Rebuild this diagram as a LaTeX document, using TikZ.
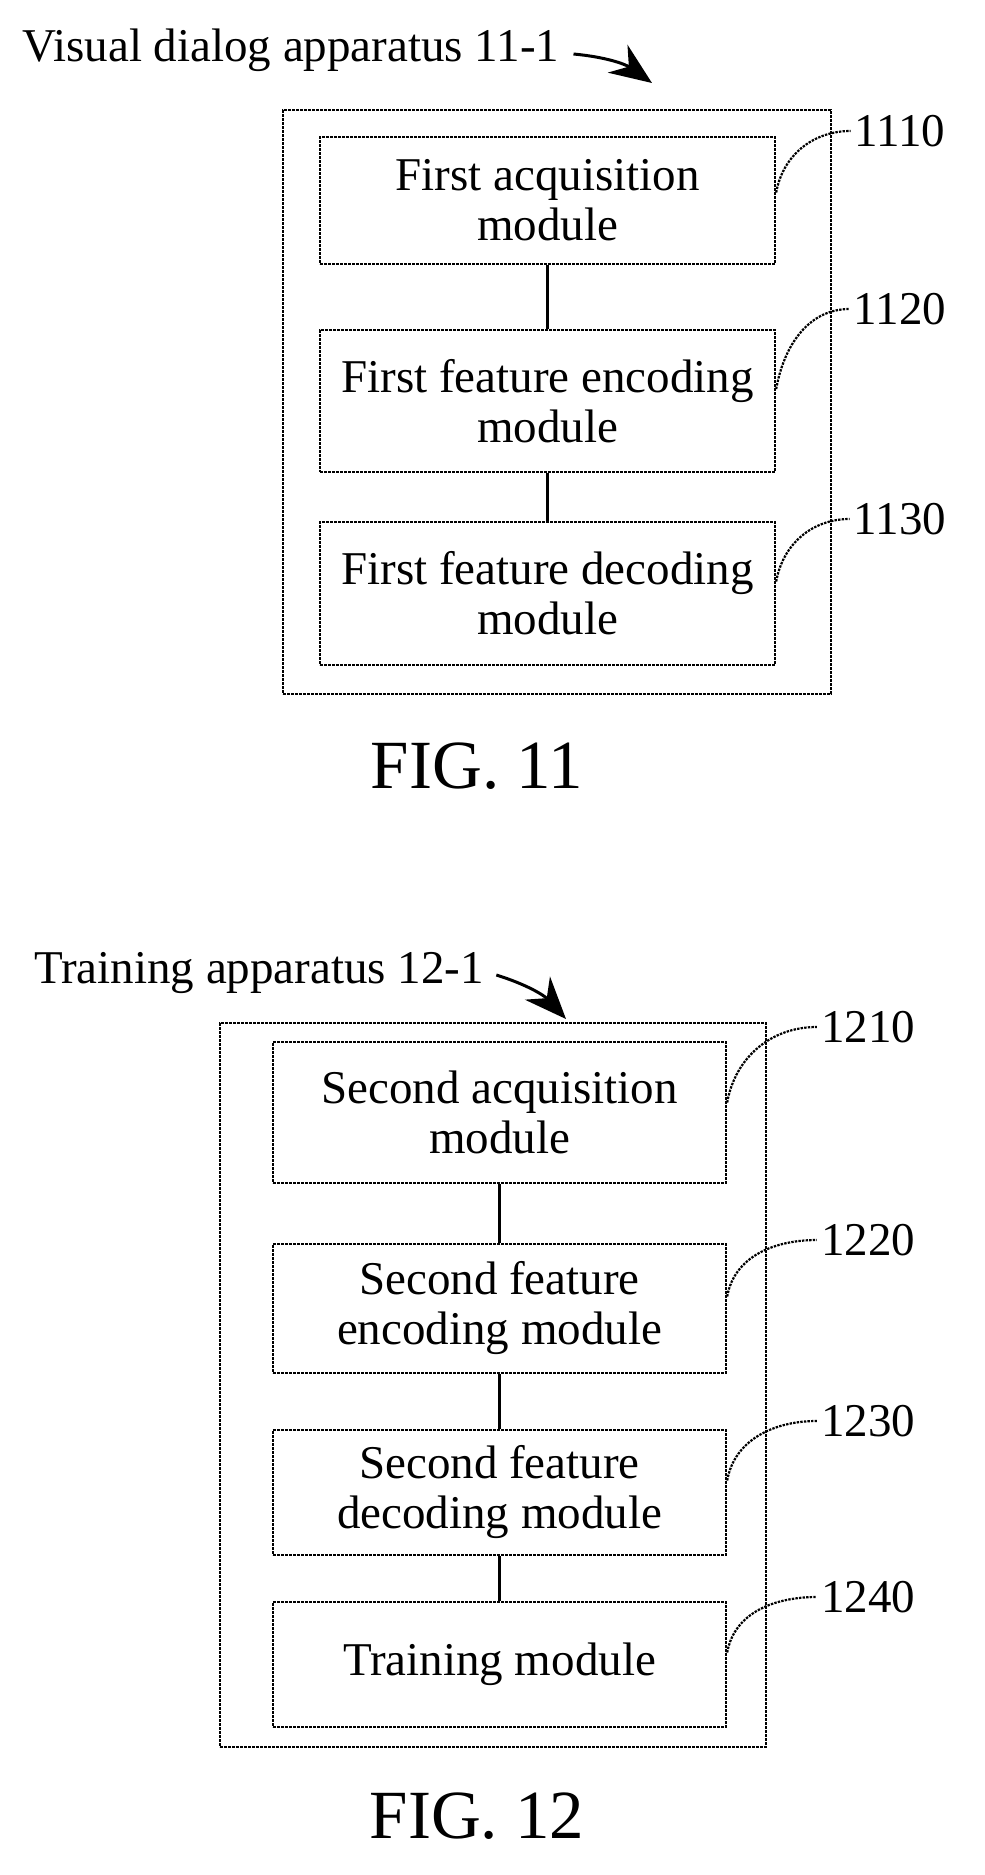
\documentclass[tikz,border=0pt]{standalone}
\usepackage{fontspec}
\setmainfont{Liberation Serif}
\usetikzlibrary{arrows.meta}
\tikzstyle{none}=[inner sep=0pt]
\tikzstyle{caption}=[inner sep=0pt,font=\fontsize{47}{55}\selectfont]
\tikzstyle{fig}=[inner sep=0pt,font=\fontsize{69}{72}\selectfont]
\tikzstyle{frame}=[draw=black,line width=2.4pt,dash pattern=on 2.6pt off 1.4pt]
\tikzstyle{module}=[frame,align=center,inner sep=0pt,font=\fontsize{47}{50}\selectfont]
\tikzstyle{link}=[-,draw=black,line width=3pt]
\tikzstyle{leader}=[-,draw=black,line width=2.2pt,dash pattern=on 2.4pt off 1.2pt]
\tikzstyle{pointer}=[-{Stealth[length=42pt,width=34pt]},draw=black,line width=3pt]

\begin{document}
\begin{tikzpicture}[x=1pt,y=-1pt]
	\useasboundingbox (0,0) rectangle (985,1875);
	% FIG. 11
	\node [style=caption, anchor=west] (0) at (22, 50) {Visual dialog apparatus 11-1};
	\node [style=frame, minimum width=548pt, minimum height=584pt] (1) at (557, 402) {};
	\node [style=module, minimum width=455pt, minimum height=127pt] (2) at (547.5, 200.5) {First acquisition\\module};
	\node [style=module, minimum width=455pt, minimum height=142pt] (3) at (547.5, 401) {First feature encoding\\module};
	\node [style=module, minimum width=455pt, minimum height=143pt] (4) at (547.5, 593.5) {First feature decoding\\module};
	\node [style=caption] (5) at (900, 131) {1110};
	\node [style=caption] (6) at (900, 309) {1120};
	\node [style=caption] (7) at (900, 519) {1130};
	\node [style=fig] (8) at (477, 766) {FIG. 11};
	\coordinate (9) at (652, 83);
	\draw [style=pointer] (0.east) ++(14pt,-4pt) to[bend left=15] (9);
	\draw [style=link] (2) to (3);
	\draw [style=link] (3) to (4);
	\draw [style=leader] ([yshift=8pt]2.east) to[out=80,in=180] ([xshift=-4pt]5.west);
	\draw [style=leader] ([yshift=12pt]3.east) to[out=80,in=180] ([xshift=-4pt]6.west);
	\draw [style=leader] ([yshift=12pt]4.east) to[out=80,in=180] ([xshift=-4pt]7.west);
	% FIG. 12
	\node [style=caption, anchor=west] (10) at (34, 973) {Training apparatus 12-1};
	\node [style=frame, minimum width=546pt, minimum height=724pt] (11) at (493, 1385) {};
	\node [style=module, minimum width=453pt, minimum height=141pt] (12) at (499.5, 1112.5) {Second acquisition\\module};
	\node [style=module, minimum width=453pt, minimum height=129pt] (13) at (499.5, 1308.5) {Second feature\\encoding module};
	\node [style=module, minimum width=453pt, minimum height=125pt] (14) at (499.5, 1492.5) {Second feature\\decoding module};
	\node [style=module, minimum width=453pt, minimum height=125pt] (15) at (499.5, 1664.5) {Training module};
	\node [style=caption] (16) at (868, 1027) {1210};
	\node [style=caption] (17) at (868, 1240) {1220};
	\node [style=caption] (18) at (868, 1421) {1230};
	\node [style=caption] (19) at (868, 1597) {1240};
	\node [style=fig] (20) at (477, 1816) {FIG. 12};
	\coordinate (21) at (566, 1019);
	\draw [style=pointer] (10.east) ++(12pt,-2pt) to[bend left=15] (21);
	\draw [style=link] (12) to (13);
	\draw [style=link] (13) to (14);
	\draw [style=link] (14) to (15);
	\draw [style=leader] ([yshift=10pt]12.east) to[out=80,in=180] ([xshift=-4pt]16.west);
	\draw [style=leader] ([yshift=12pt]13.east) to[out=80,in=180] ([xshift=-4pt]17.west);
	\draw [style=leader] ([yshift=12pt]14.east) to[out=80,in=180] ([xshift=-4pt]18.west);
	\draw [style=leader] ([yshift=12pt]15.east) to[out=80,in=180] ([xshift=-4pt]19.west);
\end{tikzpicture}
\end{document}
